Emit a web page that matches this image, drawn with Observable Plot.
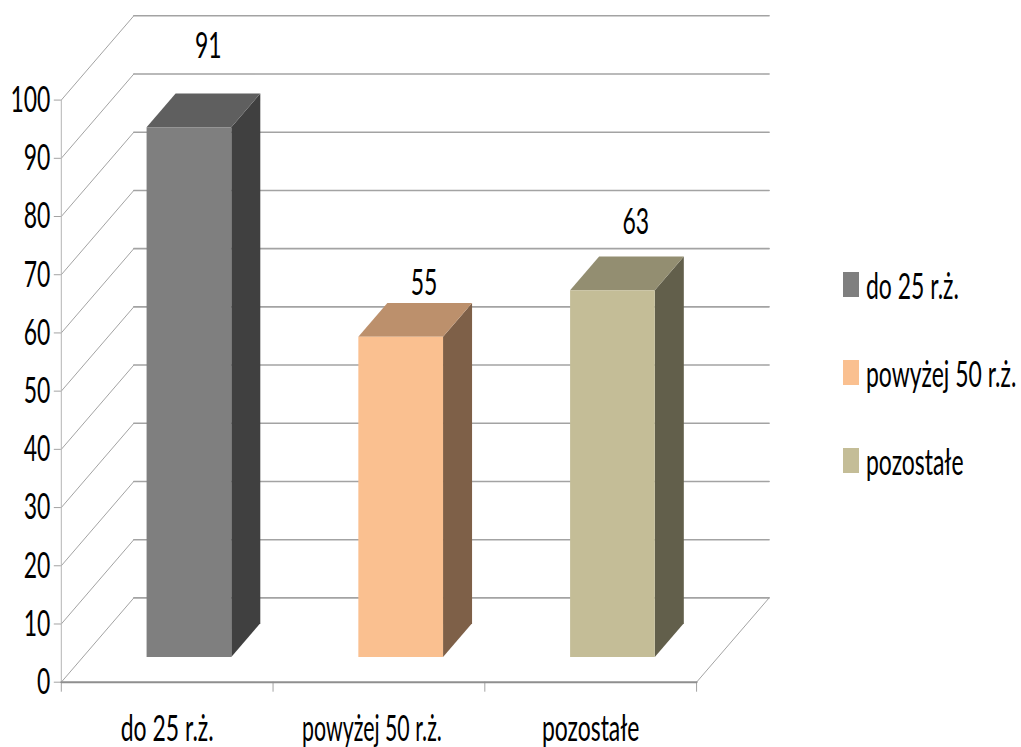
<!DOCTYPE html>
<html lang="pl">
<head>
<meta charset="utf-8">
<script src="https://cdn.jsdelivr.net/npm/d3@7"></script>
<script src="https://cdn.jsdelivr.net/npm/@observablehq/plot@0.6"></script>
<style>
html,body{margin:0;padding:0;background:#fff;width:1021px;height:747px;overflow:hidden}
#chart{position:relative;width:1021px;height:747px}
#chart svg{display:block}
.leg-swatch{position:absolute;width:16px;height:25px}
.leg-text{position:absolute;font:37px Lato,sans-serif;color:#000;white-space:nowrap;transform:scaleX(.62);transform-origin:left center;line-height:40px}
</style>
</head>
<body>
<div id="chart"></div>
<script>
const categories = ["do 25 r.ż.", "powyżej 50 r.ż.", "pozostałe"];
const values = [91, 55, 63];
const frontColors = ["#7f7f7f", "#fac090", "#c4bd97"];
const topColors = ["#5f5f5f", "#bc906c", "#938e71"];
const sideColors = ["#404040", "#7e6048", "#625f4b"];
const yTicks = [0, 10, 20, 30, 40, 50, 60, 70, 80, 90, 100];
const xTicks = [0, 1, 2, 3];

// oblique projection of the 3-D box: depth 1 = back wall
const depthX = 0.3425, depthY = 14.48;
const P = (cat, val, depth) => ({x: cat + depth * depthX, y: val + depth * depthY});
const poly = (pts, fill) => Plot.line(pts, {x: "x", y: "y", fill, stroke: "none", curve: "linear"});
const K = 0.62; // horizontal text compression
const FS = 37;
const grid = "#a3a3a3";

const marks = [];
for (const v of yTicks) {
  marks.push(Plot.line([P(0, v, 0), P(0, v, 1)], {x: "x", y: "y", stroke: grid, strokeWidth: 1}));
  marks.push(Plot.line([P(0, v, 1), P(3, v, 1)], {x: "x", y: "y", stroke: grid, strokeWidth: 1.6}));
}
marks.push(Plot.line([P(3, 0, 0), P(3, 0, 1)], {x: "x", y: "y", stroke: grid, strokeWidth: 1}));
marks.push(Plot.line([P(0, 0, 0), P(0, 100, 0)], {x: "x", y: "y", stroke: "#b5b5b5", strokeWidth: 1}));
marks.push(Plot.axisY({ticks: yTicks, anchor: "left", tickSize: 7, tickPadding: 4, stroke: "#a3a3a3",
  fontSize: FS, fill: "#000", label: null}));
marks.push(Plot.axisX({ticks: xTicks, anchor: "bottom", tickSize: 10, tickFormat: () => "", stroke: "#a3a3a3", label: null}));
marks.push(Plot.line([P(0, 0, 0), P(3, 0, 0)], {x: "x", y: "y", stroke: "#8f8f8f", strokeWidth: 2}));

values.forEach((v, i) => {
  const a = i + 0.3, b = i + 0.7, d0 = 0.3, d1 = 0.7;
  marks.push(poly([P(b, 0, d0), P(b, 0, d1), P(b, v, d1), P(b, v, d0)], sideColors[i]));
  marks.push(poly([P(a, v, d0), P(b, v, d0), P(b, v, d1), P(a, v, d1)], topColors[i]));
  marks.push(poly([P(a, 0, d0), P(b, 0, d0), P(b, v, d0), P(a, v, d0)], frontColors[i]));
});

// value labels sit above the bar; extra lift differs per bar in the original
const labelLift = [47, 20, 34];
const labelShift = [-52, -48, -48];
marks.push(...values.map((v, i) => Plot.text([P(i + 0.7, v, 0.7)], {
  x: "x", y: "y", text: () => String(v), dx: labelShift[i], dy: -labelLift[i],
  fontSize: FS, fill: "#000", lineAnchor: "middle", textAnchor: "middle"
})));
const catShift = [0, -7, 0];
marks.push(...categories.map((c, i) => Plot.text([P(i + 0.5, 0, 0)], {
  x: "x", y: "y", text: () => c, dx: catShift[i], dy: 47,
  fontSize: FS, fill: "#000", lineAnchor: "middle", textAnchor: "middle"
})));

const plot = Plot.plot({
  width: 1021, height: 747,
  marginLeft: 60.8, marginRight: 252.4, marginTop: 15.3, marginBottom: 65.3,
  style: {fontFamily: "Lato, sans-serif", background: "#fff", overflow: "visible"},
  x: {domain: [0, 3 + depthX], axis: null},
  y: {domain: [0, 100 + depthY], axis: null},
  marks
});
const root = document.getElementById("chart");
root.appendChild(plot);

// compress glyphs horizontally: the original face is much narrower than any installed font
plot.querySelectorAll("text").forEach(t => {
  const len = t.getComputedTextLength();
  if (len > 0) {
    const k = t.textContent === categories[1] ? K * 0.93 : K;
    t.setAttribute("lengthAdjust", "spacingAndGlyphs");
    t.setAttribute("textLength", (len * k).toFixed(1));
  }
});

// legend
const legendTop = [272, 360, 448];
categories.forEach((c, i) => {
  const s = document.createElement("div");
  s.className = "leg-swatch";
  s.style.left = "843px"; s.style.top = legendTop[i] + "px"; s.style.background = frontColors[i];
  root.appendChild(s);
  const t = document.createElement("div");
  t.className = "leg-text";
  t.style.left = "866px"; t.style.top = (legendTop[i] - 7) + "px"; t.textContent = c;
  root.appendChild(t);
});
</script>
</body>
</html>
